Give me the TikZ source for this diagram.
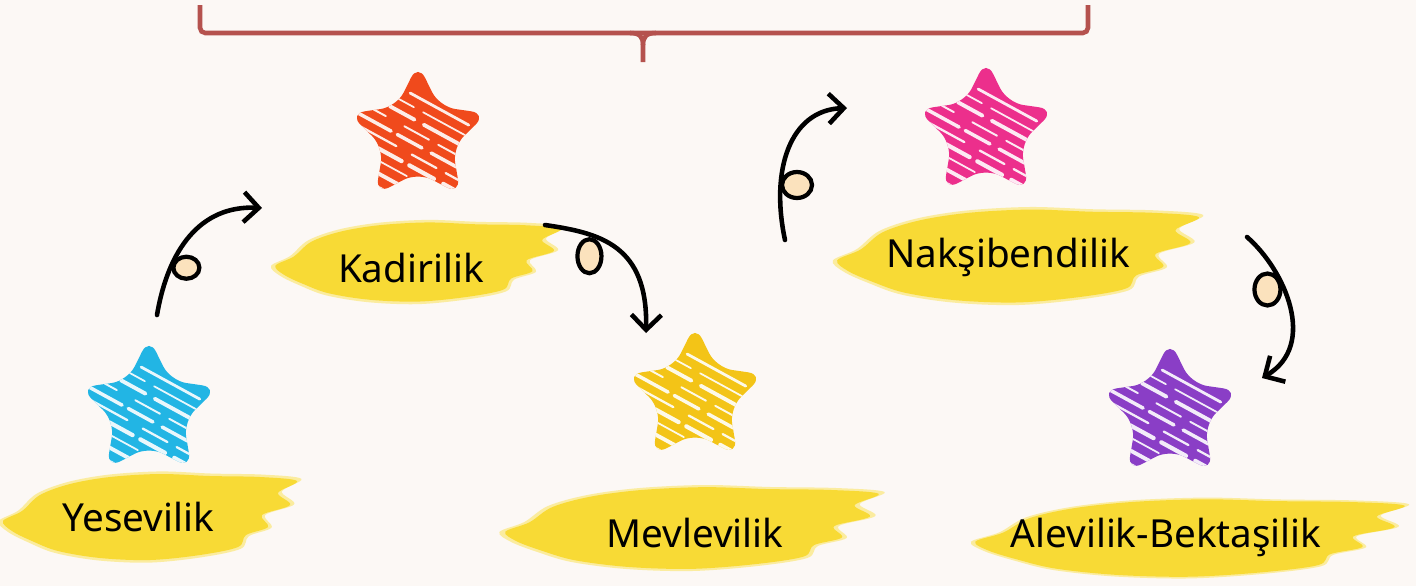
\documentclass[tikz,border=0pt]{standalone}
\usepackage{fontspec}
\setmainfont{Noto Sans}
\usetikzlibrary{positioning,calc,arrows.meta,shapes.geometric}

\definecolor{bgpaper}{HTML}{FCF8F5}
\definecolor{bracered}{HTML}{B5524E}
\definecolor{starcyan}{HTML}{22B5E4}
\definecolor{starred}{HTML}{F04A1C}
\definecolor{staryellow}{HTML}{F3C417}
\definecolor{starpink}{HTML}{EC2F8C}
\definecolor{starpurple}{HTML}{8A3EC6}
\definecolor{brushyellow}{HTML}{F8D92C}
\definecolor{brushlight}{HTML}{FBE98A}
\definecolor{loopbeige}{HTML}{FBE2BD}

% 刷子形状（以 294x87 px 为基准）
\newcommand{\brushpath}{plot[smooth cycle, tension=0.55] coordinates {
    (-147,4) (-128,-6) (-110,-22) (-80,-33) (-40,-40) (10,-43) (60,-41)
    (110,-40) (147,-36) (128,-24) (140,-12) (112,-2) (118,10) (96,18)
    (88,30) (50,38) (0,43) (-50,41) (-92,34) (-118,24) (-138,14)}}

\begin{document}
\begin{tikzpicture}[
    x=0.02cm, y=-0.02cm,
    >={Straight Barb[length=3mm,width=6mm]},
    namebox/.style={font=\fontsize{22}{26}\selectfont, inner sep=0pt},
    scribble/.style={path picture={
        \foreach \off/\lw/\gap in {-0.95/1.2/8,-0.62/2.2/3,-0.3/1.0/14,0.0/2.4/5,0.3/1.3/10,
                                   0.6/2.0/4,0.9/1.1/12,1.2/2.2/6,1.5/1.0/9,1.8/1.6/4}
            \draw[white, opacity=0.9, line width=\lw pt, line cap=round,
                  dash pattern=on 38pt off \gap pt on 16pt off 6pt]
                ($(path picture bounding box.center)+({(-1.5-0.35*\off)*1cm},{\off*1cm})$) -- ++(3.2cm,-1.75cm);
    }},
    starmark/.style={star, star points=5, star point ratio=2.0, minimum size=2.9cm,
                     inner sep=0pt, rounded corners=0.32cm, scribble},
    looparrow/.style={->, line width=2.6pt, draw=black, line cap=round},
    loopring/.style={draw=black, line width=2.4pt, fill=loopbeige},
    bracket/.style={draw=bracered, line width=2.6pt, rounded corners=3pt},
    brush/.style={fill=brushyellow, opacity=0.92},
    brushedge/.style={fill=brushlight, opacity=0.8}
]

% 背景
\fill[bgpaper] (0,0) rectangle (1416,586);
\useasboundingbox (0,0) rectangle (1416,586);

% 顶部括号
\draw[bracket] (200,5) -- (200,33) -- (1088,33) -- (1088,5);
\draw[bracket, rounded corners=0pt] (630,33) .. controls (640,33) and (643,37) .. (643,45) -- (643,62);
\draw[bracket, rounded corners=0pt] (656,33) .. controls (646,33) and (643,37) .. (643,45);

% 黄色笔刷
\path[brushedge, shift={(150,517)}, xscale=1.03, yscale=1.06] \brushpath;
\path[brush,     shift={(150,517)}] \brushpath;
\path[brushedge, shift={(418,262)}, xscale=1.0, yscale=0.98] \brushpath;
\path[brush,     shift={(418,262)}, xscale=0.97, yscale=0.92] \brushpath;
\path[brushedge, shift={(692,528)}, xscale=1.31, yscale=1.0] \brushpath;
\path[brush,     shift={(692,528)}, xscale=1.27, yscale=0.95] \brushpath;
\path[brushedge, shift={(1018,256)}, xscale=1.26, yscale=1.14] \brushpath;
\path[brush,     shift={(1018,256)}, xscale=1.23, yscale=1.08] \brushpath;
\path[brushedge, shift={(1190,538)}, xscale=1.49, yscale=0.94] \brushpath;
\path[brush,     shift={(1190,538)}, xscale=1.46, yscale=0.9] \brushpath;

% 名称
\node[namebox] (yesevi) at (138,517) {Yesevilik};
\node[namebox] (kadiri) at (411,268) {Kadirilik};
\node[namebox] (mevlevi) at (695,533) {Mevlevilik};
\node[namebox] (naksi) at (1008,257) {Nakşibendilik};
\node[namebox] (alevi) at (1166,537) {Alevilik-Bektaşilik};

% 星星
\node[starmark, fill=starcyan]   (yesstar) at (149,410) {};
\node[starmark, fill=starred]    (kadstar) at (418,136) {};
\node[starmark, fill=staryellow] (mevstar) at (695,397) {};
\node[starmark, fill=starpink]   (nakstar) at (986,132) {};
\node[starmark, fill=starpurple] (alestar) at (1170,413) {};

% 环形箭头
\coordinate (yes_out) at (157,315);
\coordinate (kad_in)  at (262,208);
\draw[looparrow] (yes_out) .. controls (168,250) and (200,205) .. (kad_in) coordinate[pos=0.28] (yes_loop);
\draw[loopring] ($(yes_loop)+(15,2)$) ellipse [x radius=13, y radius=11];

\coordinate (kad_out) at (545,225);
\coordinate (mev_in)  at (646,333);
\draw[looparrow] (kad_out) .. controls (600,233) and (648,245) .. (mev_in) coordinate[pos=0.3] (kad_loop);
\draw[loopring] ($(kad_loop)+(-2,21)$) ellipse [x radius=12, y radius=17];

\coordinate (mev_out) at (785,240);
\coordinate (nak_in)  at (847,108);
\draw[looparrow] (mev_out) .. controls (770,170) and (790,110) .. (nak_in) coordinate[pos=0.3] (mev_loop);
\draw[loopring] ($(mev_loop)+(16,4)$) ellipse [x radius=15, y radius=13];

\coordinate (nak_out) at (1247,237);
\coordinate (ale_in)  at (1262,378);
\draw[looparrow] (nak_out) .. controls (1285,270) and (1318,345) .. (ale_in) coordinate[pos=0.35] (nak_loop);
\draw[loopring] ($(nak_loop)+(-14,6)$) ellipse [x radius=13, y radius=16];

\end{tikzpicture}
\end{document}
